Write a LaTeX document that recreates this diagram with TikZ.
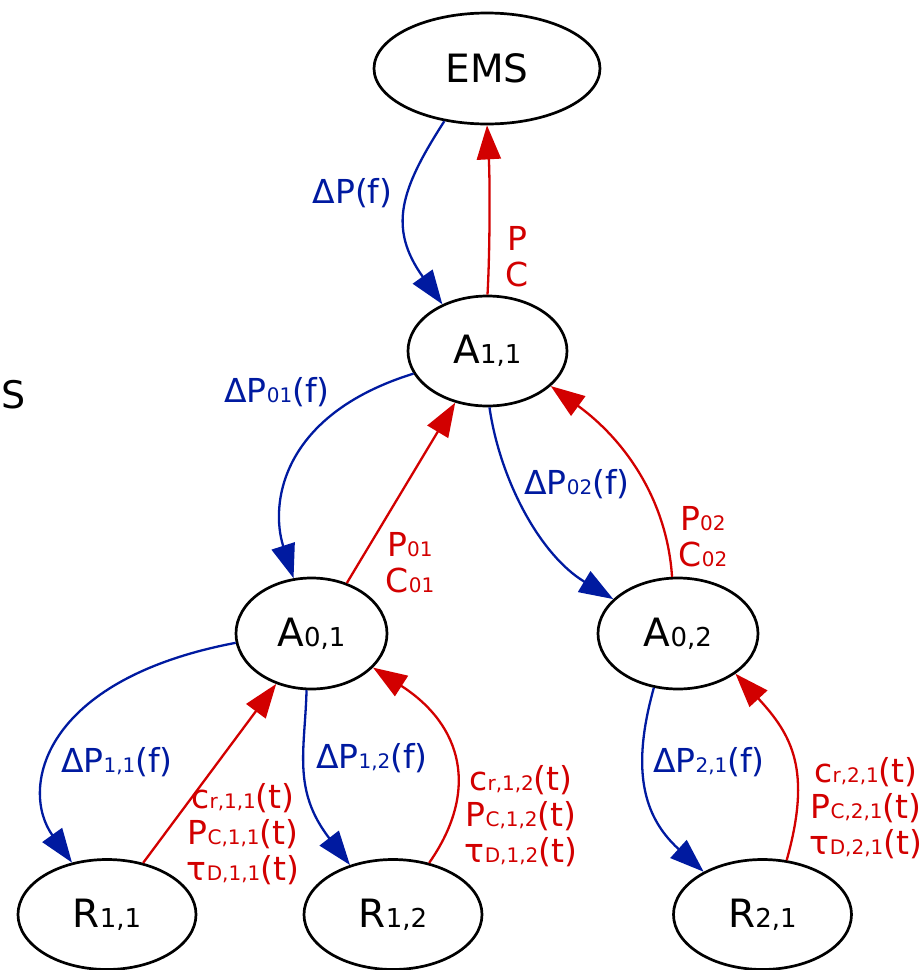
\documentclass[tikz,border=0pt]{standalone}
\usepackage{fontspec}
\setmainfont{DejaVu Sans}
\usetikzlibrary{shapes.geometric,arrows.meta}
\definecolor{eblue}{RGB}{0,26,160}
\definecolor{ered}{RGB}{210,0,0}
\newcommand\nsb[1]{{\fontsize{26}{26}\selectfont #1}}
\newcommand\esb[1]{{\fontsize{20}{20}\selectfont #1}}
\begin{document}
\begin{tikzpicture}[x=1pt,y=-1pt,
  st/.style={draw=black, line width=2.7pt, ellipse, inner sep=0pt, font=\fontsize{39}{44}\selectfont},
  bl/.style={draw=eblue, line width=2.3pt, -{Triangle[length=34pt,width=24pt]}},
  rd/.style={draw=ered, line width=2.3pt, -{Triangle[length=34pt,width=24pt]}},
  bt/.style={text=eblue, font=\fontsize{33}{36}\selectfont, inner sep=0pt},
  rt/.style={text=ered, font=\fontsize{33}{36}\selectfont, align=center, inner sep=0pt}
]
\useasboundingbox (0,0) rectangle (922,970);

\node[st, minimum width=226pt, minimum height=111pt] (EMS) at (487,68.5) {EMS};
\node[st, minimum width=159pt, minimum height=110pt] (A11) at (487.5,351) {A\nsb{1,1}};
\node[st, minimum width=151pt, minimum height=111pt] (A01) at (311.5,633.5) {A\nsb{0,1}};
\node[st, minimum width=160pt, minimum height=111pt] (A02) at (678,633.5) {A\nsb{0,2}};
\node[st, minimum width=178pt, minimum height=110pt] (R11) at (107,914.5) {R\nsb{1,1}};
\node[st, minimum width=178pt, minimum height=110pt] (R12) at (393,914.5) {R\nsb{1,2}};
\node[st, minimum width=178pt, minimum height=110pt] (R21) at (762.5,914.5) {R\nsb{2,1}};

\draw[bl] (EMS.231) .. controls (400,190) and (388,228) .. (A11.134);
\draw[rd] (A11.90) .. controls (490,250) and (490,180) .. (EMS.270);
\draw[bl] (A11.197) .. controls (280,415) and (270,505) .. (A01.108);
\draw[rd] (A01.55) -- (A11.238);
\draw[bl] (A11.272) .. controls (500,480) and (540,555) .. (A02.152);
\draw[rd] (A02.96) .. controls (667,500) and (625,440) .. (A11.331);
\draw[bl] (A01.187) .. controls (40,680) and (20,790) .. (R11.124);
\draw[rd] (R11.55) -- (A01.235);
\draw[bl] (A01.265) .. controls (305,750) and (292,790) .. (R12.131);
\draw[rd] (R12.55) .. controls (480,790) and (462,725) .. (A01.331);
\draw[bl] (A02.246) .. controls (632,766) and (641,815) .. (R21.144);
\draw[rd] (R21.66) .. controls (812,770) and (792,735) .. (A02.325);

\node[bt] (l1) at (352.5,193.5) {ΔP(f)};
\node[rt] (l2) at (517,257) {P\\C};
\node[bt] (l3) at (277,392) {ΔP\esb{01}(f)};
\node[rt] (l4) at (410,563) {P\esb{01}\\C\esb{01}};
\node[bt] (l5) at (577,484) {ΔP\esb{02}(f)};
\node[rt] (l6) at (703,537) {P\esb{02}\\C\esb{02}};
\node[bt] (l7) at (117,762) {ΔP\esb{1,1}(f)};
\node[rt] (l8) at (243,834) {c\esb{r,1,1}(t)\\P\esb{C,1,1}(t)\\τ\esb{D,1,1}(t)};
\node[bt] (l9) at (372,758) {ΔP\esb{1,2}(f)};
\node[rt] (l10) at (521,816) {c\esb{r,1,2}(t)\\P\esb{C,1,2}(t)\\τ\esb{D,1,2}(t)};
\node[bt] (l11) at (709,762) {ΔP\esb{2,1}(f)};
\node[rt] (l12) at (866,808) {c\esb{r,2,1}(t)\\P\esb{C,2,1}(t)\\τ\esb{D,2,1}(t)};
\node[anchor=west, font=\fontsize{38}{40}\selectfont, inner sep=0pt] (S) at (1,395) {S};
\end{tikzpicture}
\end{document}
